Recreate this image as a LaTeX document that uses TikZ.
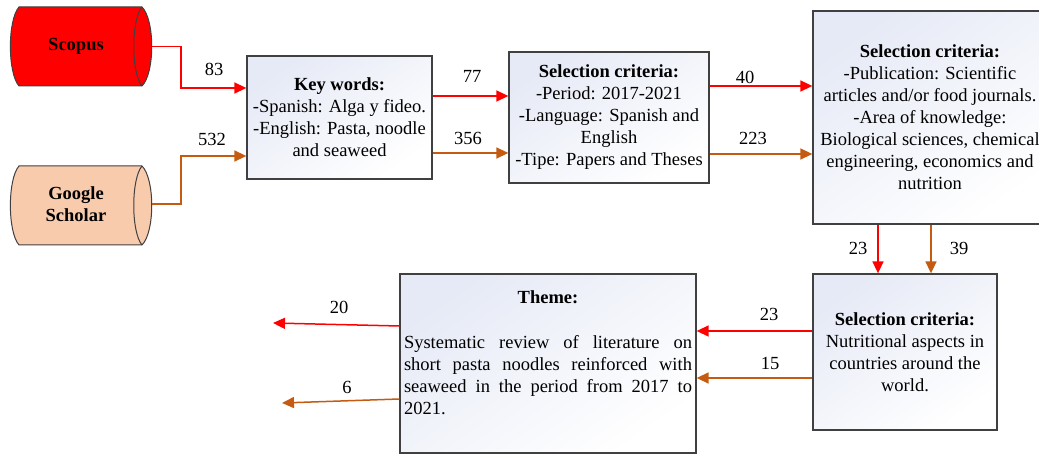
\documentclass[tikz,border=0pt]{standalone}
\usepackage{fontspec}
\setmainfont{Liberation Serif}
\usetikzlibrary{arrows.meta,calc}
\definecolor{redA}{RGB}{255,0,0}
\definecolor{orangeA}{RGB}{197,90,17}
\definecolor{peach}{RGB}{248,203,173}
\definecolor{boxtop}{RGB}{230,234,246}
\definecolor{edge}{RGB}{64,64,64}
\begin{document}
\begin{tikzpicture}[x=1pt,y=-1pt,
  font=\fontsize{18.5}{22}\selectfont,
  box/.style={draw=edge, line width=1.3pt, top color=boxtop, bottom color=white, shading angle=35, align=center, inner sep=0pt},
  flowr/.style={draw=redA, line width=1.5pt, -{Triangle[length=12pt,width=11pt]}},
  flowo/.style={draw=orangeA, line width=1.5pt, -{Triangle[length=12pt,width=11pt]}},
  num/.style={inner sep=0pt},
  cyl/.style={draw=edge, line width=1pt},
  cylnode/.style={minimum width=142pt, minimum height=79pt, inner sep=0pt},
  cyltext/.style={font=\fontsize{18.5}{22}\selectfont\bfseries, align=center, inner sep=0pt}
]
\path[use as bounding box, clip] (0,0) rectangle (1039,454);

% cylinders
\path[cyl, fill=redA] (19,7) -- (142,7) .. controls (155,20) and (155,73) .. (142,86) -- (19,86) .. controls (7.5,73) and (7.5,20) .. (19,7) -- cycle;
\draw[cyl] (142,7) .. controls (131,20) and (131,73) .. (142,86);
\path[cyl, fill=peach] (19,166) -- (142,166) .. controls (155,179) and (155,232) .. (142,245) -- (19,245) .. controls (7.5,232) and (7.5,179) .. (19,166) -- cycle;
\draw[cyl] (142,166) .. controls (131,179) and (131,232) .. (142,245);

\node[cylnode] (scopus) at (81,46.5) {};
\node[cyltext] (scopustext) at (76,46) {Scopus};
\node[cylnode] (gs) at (81,204) {};
\node[cyltext] (gstext) at (76,204.5) {Google\\Scholar};

% boxes
\node[box, minimum width=185pt, minimum height=123pt] (kw) at (339.5,117.5)
  {\textbf{Key words:}\\-Spanish: Alga y fideo.\\-English: Pasta, noodle\\and seaweed};
\node[box, minimum width=200pt, minimum height=131pt] (sc1) at (609,117.5)
  {\textbf{Selection criteria:}\\-Period: 2017-2021\\-Language: Spanish and\\English\\-Tipe: Papers and Theses};
\node[box, minimum width=234pt, minimum height=213pt] (sc2) at (930,117.5)
  {\textbf{Selection criteria:}\\-Publication: Scientific\\articles and/or food journals.\\-Area of knowledge:\\Biological sciences, chemical\\engineering, economics and\\nutrition};
\node[box, minimum width=184pt, minimum height=156pt] (sc3) at (905,352)
  {\textbf{Selection criteria:}\\Nutritional aspects in\\countries around the\\world.};
\node[box, minimum width=296pt, minimum height=179pt] (theme) at (548,363.5) {};
\node[inner sep=0pt, font=\fontsize{18.5}{22}\selectfont\bfseries] (themetitle) at (548,297) {Theme:};
\node[inner sep=0pt, text width=288pt, align=left] (themebody) at (548,375)
  {\makebox[288pt][l]{Systematic\hfill review\hfill of\hfill literature\hfill on}\\
   \makebox[288pt][l]{short\hfill pasta\hfill noodles\hfill reinforced\hfill with}\\
   \makebox[288pt][l]{seaweed\hfill in\hfill the\hfill period\hfill from\hfill 2017\hfill to}\\
   2021.};

% connectors
\draw[flowr] (scopus.east) -| (181,88) -- (kw.west |- 181,88);
\draw[flowo] (gs.east) -| (181,156) -- (kw.west |- 181,156);
\draw[flowr] (kw.east |- 0,96) -- (sc1.west |- 0,96);
\draw[flowo] (kw.east |- 0,153) -- (sc1.west |- 0,153);
\draw[flowr] (sc1.east |- 0,86) -- (sc2.west |- 0,86);
\draw[flowo] (sc1.east |- 0,154) -- (sc2.west |- 0,154);
\draw[flowr] (sc2.south -| 878,0) -- (sc3.north -| 878,0);
\draw[flowo] (sc2.south -| 931,0) -- (sc3.north -| 931,0);
\draw[flowr] (sc3.west |- 0,331) -- (theme.east |- 0,331);
\draw[flowo] (sc3.west |- 0,378) -- (theme.east |- 0,378);
\coordinate (outr) at (273,323);
\coordinate (outo) at (282,403);
\draw[flowr] (theme.west |- 0,326) -- (outr);
\draw[flowo] (theme.west |- 0,399) -- (outo);

% labels
\node[num] (n83) at (214,69) {83};
\node[num] (n532) at (212,139) {532};
\node[num] (n77) at (472,76) {77};
\node[num] (n356) at (468,138) {356};
\node[num] (n40) at (745,77) {40};
\node[num] (n223) at (753,138) {223};
\node[num] (n23a) at (858,248) {23};
\node[num] (n39) at (959,248) {39};
\node[num] (n23b) at (769,314) {23};
\node[num] (n15) at (770,363) {15};
\node[num] (n20) at (339,307) {20};
\node[num] (n6) at (347,387) {6};
\end{tikzpicture}
\end{document}
